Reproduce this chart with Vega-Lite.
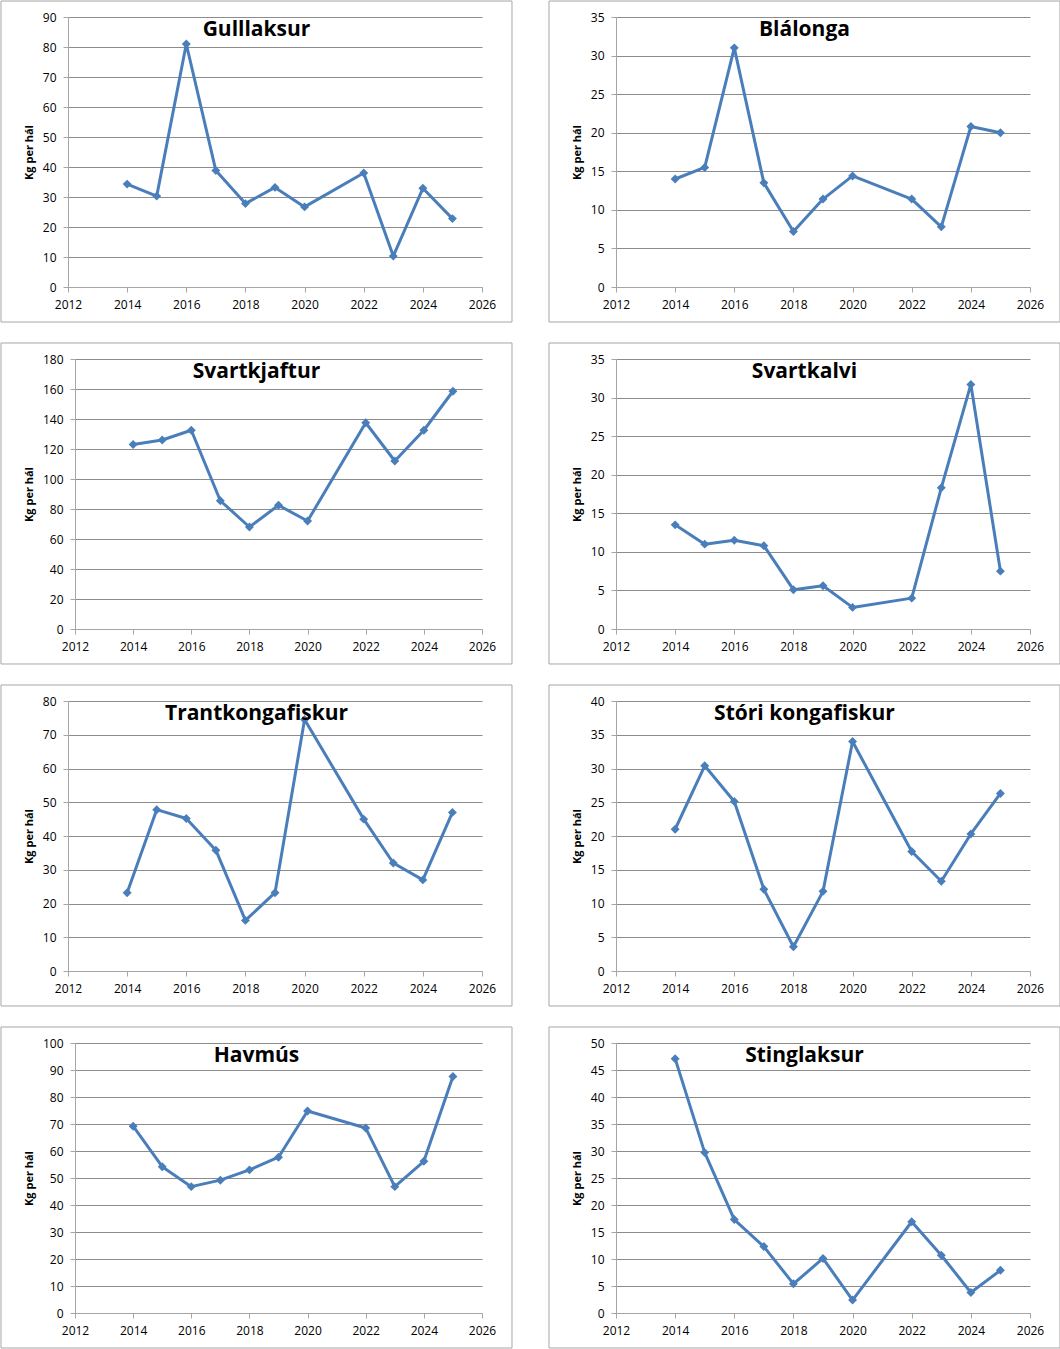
{
  "$schema": "https://vega.github.io/schema/vega-lite/v6.json",
  "background": "white",
  "padding": 0,
  "columns": 2,
  "align": "none",
  "bounds": "full",
  "spacing": {"row": 19, "column": 35},
  "config": {
    "view": {"stroke": null},
    "font": "Open Sans",
    "axis": {
      "labelFont": "Open Sans", "labelFontSize": 12, "labelColor": "#000000",
      "domainColor": "#a6a6a6", "tickColor": "#a6a6a6", "gridColor": "#8c8c8c",
      "tickSize": 5, "titleFont": "Open Sans", "titleFontSize": 11,
      "titleFontWeight": "bold", "titleColor": "#000000"
    },
    "axisX": {"grid": false, "labelPadding": 7, "labelFlush": false},
    "axisY": {"grid": true, "labelPadding": 7, "titlePadding": 8},
    "title": {"font": "Open Sans", "fontSize": 21, "fontWeight": "bold", "color": "#000000", "anchor": "middle", "frame": "bounds", "offset": -39.5, "baseline": "alphabetic"}
  },
  "datasets": {
    "fish": [
      {"species": "Gulllaksur", "year": 2014, "kg": 34.3},
      {"species": "Gulllaksur", "year": 2015, "kg": 30.3},
      {"species": "Gulllaksur", "year": 2016, "kg": 81.0},
      {"species": "Gulllaksur", "year": 2017, "kg": 38.8},
      {"species": "Gulllaksur", "year": 2018, "kg": 27.8},
      {"species": "Gulllaksur", "year": 2019, "kg": 33.2},
      {"species": "Gulllaksur", "year": 2020, "kg": 26.7},
      {"species": "Gulllaksur", "year": 2022, "kg": 38.0},
      {"species": "Gulllaksur", "year": 2023, "kg": 10.3},
      {"species": "Gulllaksur", "year": 2024, "kg": 32.9},
      {"species": "Gulllaksur", "year": 2025, "kg": 22.8},
      {"species": "Blálonga", "year": 2014, "kg": 14.0},
      {"species": "Blálonga", "year": 2015, "kg": 15.5},
      {"species": "Blálonga", "year": 2016, "kg": 31.0},
      {"species": "Blálonga", "year": 2017, "kg": 13.5},
      {"species": "Blálonga", "year": 2018, "kg": 7.2},
      {"species": "Blálonga", "year": 2019, "kg": 11.4},
      {"species": "Blálonga", "year": 2020, "kg": 14.4},
      {"species": "Blálonga", "year": 2022, "kg": 11.4},
      {"species": "Blálonga", "year": 2023, "kg": 7.8},
      {"species": "Blálonga", "year": 2024, "kg": 20.8},
      {"species": "Blálonga", "year": 2025, "kg": 20.0},
      {"species": "Svartkjaftur", "year": 2014, "kg": 123.0},
      {"species": "Svartkjaftur", "year": 2015, "kg": 126.0},
      {"species": "Svartkjaftur", "year": 2016, "kg": 132.5},
      {"species": "Svartkjaftur", "year": 2017, "kg": 85.5},
      {"species": "Svartkjaftur", "year": 2018, "kg": 68.0},
      {"species": "Svartkjaftur", "year": 2019, "kg": 82.5},
      {"species": "Svartkjaftur", "year": 2020, "kg": 72.0},
      {"species": "Svartkjaftur", "year": 2022, "kg": 137.5},
      {"species": "Svartkjaftur", "year": 2023, "kg": 112.0},
      {"species": "Svartkjaftur", "year": 2024, "kg": 132.5},
      {"species": "Svartkjaftur", "year": 2025, "kg": 158.5},
      {"species": "Svartkalvi", "year": 2014, "kg": 13.5},
      {"species": "Svartkalvi", "year": 2015, "kg": 11.0},
      {"species": "Svartkalvi", "year": 2016, "kg": 11.5},
      {"species": "Svartkalvi", "year": 2017, "kg": 10.8},
      {"species": "Svartkalvi", "year": 2018, "kg": 5.1},
      {"species": "Svartkalvi", "year": 2019, "kg": 5.6},
      {"species": "Svartkalvi", "year": 2020, "kg": 2.8},
      {"species": "Svartkalvi", "year": 2022, "kg": 4.0},
      {"species": "Svartkalvi", "year": 2023, "kg": 18.3},
      {"species": "Svartkalvi", "year": 2024, "kg": 31.7},
      {"species": "Svartkalvi", "year": 2025, "kg": 7.5},
      {"species": "Trantkongafiskur", "year": 2014, "kg": 23.2},
      {"species": "Trantkongafiskur", "year": 2015, "kg": 47.8},
      {"species": "Trantkongafiskur", "year": 2016, "kg": 45.2},
      {"species": "Trantkongafiskur", "year": 2017, "kg": 35.8},
      {"species": "Trantkongafiskur", "year": 2018, "kg": 15.0},
      {"species": "Trantkongafiskur", "year": 2019, "kg": 23.2},
      {"species": "Trantkongafiskur", "year": 2020, "kg": 74.5},
      {"species": "Trantkongafiskur", "year": 2022, "kg": 45.0},
      {"species": "Trantkongafiskur", "year": 2023, "kg": 32.0},
      {"species": "Trantkongafiskur", "year": 2024, "kg": 27.0},
      {"species": "Trantkongafiskur", "year": 2025, "kg": 47.0},
      {"species": "Stóri kongafiskur", "year": 2014, "kg": 21.0},
      {"species": "Stóri kongafiskur", "year": 2015, "kg": 30.4},
      {"species": "Stóri kongafiskur", "year": 2016, "kg": 25.1},
      {"species": "Stóri kongafiskur", "year": 2017, "kg": 12.1},
      {"species": "Stóri kongafiskur", "year": 2018, "kg": 3.6},
      {"species": "Stóri kongafiskur", "year": 2019, "kg": 11.8},
      {"species": "Stóri kongafiskur", "year": 2020, "kg": 34.0},
      {"species": "Stóri kongafiskur", "year": 2022, "kg": 17.7},
      {"species": "Stóri kongafiskur", "year": 2023, "kg": 13.3},
      {"species": "Stóri kongafiskur", "year": 2024, "kg": 20.3},
      {"species": "Stóri kongafiskur", "year": 2025, "kg": 26.3},
      {"species": "Havmús", "year": 2014, "kg": 69.2},
      {"species": "Havmús", "year": 2015, "kg": 54.2},
      {"species": "Havmús", "year": 2016, "kg": 46.8},
      {"species": "Havmús", "year": 2017, "kg": 49.2},
      {"species": "Havmús", "year": 2018, "kg": 53.0},
      {"species": "Havmús", "year": 2019, "kg": 57.7},
      {"species": "Havmús", "year": 2020, "kg": 74.8},
      {"species": "Havmús", "year": 2022, "kg": 68.5},
      {"species": "Havmús", "year": 2023, "kg": 46.8},
      {"species": "Havmús", "year": 2024, "kg": 56.2},
      {"species": "Havmús", "year": 2025, "kg": 87.6},
      {"species": "Stinglaksur", "year": 2014, "kg": 47.1},
      {"species": "Stinglaksur", "year": 2015, "kg": 29.7},
      {"species": "Stinglaksur", "year": 2016, "kg": 17.3},
      {"species": "Stinglaksur", "year": 2017, "kg": 12.3},
      {"species": "Stinglaksur", "year": 2018, "kg": 5.4},
      {"species": "Stinglaksur", "year": 2019, "kg": 10.1},
      {"species": "Stinglaksur", "year": 2020, "kg": 2.4},
      {"species": "Stinglaksur", "year": 2022, "kg": 16.9},
      {"species": "Stinglaksur", "year": 2023, "kg": 10.7},
      {"species": "Stinglaksur", "year": 2024, "kg": 3.8},
      {"species": "Stinglaksur", "year": 2025, "kg": 7.9}
    ]
  },
  "concat": [
    {
      "width": 414, "height": 270, "title": "Gulllaksur",
      "layer": [
        {"data": {"values": [{}]}, "mark": {"type": "rect", "fill": "transparent", "stroke": "#a6a6a6", "strokeWidth": 1},
         "encoding": {
           "x": {"datum": 2009.734, "type": "quantitative", "title": null, "scale": {"domain": [2012, 2026], "nice": false, "zero": false}, "axis": {"values": [2012, 2014, 2016, 2018, 2020, 2022, 2024, 2026], "format": "d"}},
           "x2": {"datum": 2027.014},
           "y": {"datum": -11.667, "type": "quantitative", "title": "Kg per hál", "scale": {"domain": [0, 90], "nice": false, "zero": false}, "axis": {"values": [0, 10, 20, 30, 40, 50, 60, 70, 80, 90]}},
           "y2": {"datum": 95.333}}},
        {"data": {"name": "fish"}, "transform": [{"filter": "datum.species == 'Gulllaksur'"}],
         "mark": {"type": "line", "color": "#4A7EBB", "strokeWidth": 3, "strokeJoin": "round", "point": {"shape": "diamond", "size": 80, "filled": true, "color": "#4A7EBB"}},
         "encoding": {
           "x": {"field": "year", "type": "quantitative", "title": null, "scale": {"domain": [2012, 2026], "nice": false, "zero": false}, "axis": {"values": [2012, 2014, 2016, 2018, 2020, 2022, 2024, 2026], "format": "d"}},
           "y": {"field": "kg", "type": "quantitative", "title": "Kg per hál", "scale": {"domain": [0, 90], "nice": false, "zero": false}, "axis": {"values": [0, 10, 20, 30, 40, 50, 60, 70, 80, 90]}}
         }}
      ]
    },
    {
      "width": 414, "height": 270, "title": "Blálonga",
      "layer": [
        {"data": {"values": [{}]}, "mark": {"type": "rect", "fill": "transparent", "stroke": "#a6a6a6", "strokeWidth": 1},
         "encoding": {
           "x": {"datum": 2009.734, "type": "quantitative", "title": null, "scale": {"domain": [2012, 2026], "nice": false, "zero": false}, "axis": {"values": [2012, 2014, 2016, 2018, 2020, 2022, 2024, 2026], "format": "d"}},
           "x2": {"datum": 2027.014},
           "y": {"datum": -4.537, "type": "quantitative", "title": "Kg per hál", "scale": {"domain": [0, 35], "nice": false, "zero": false}, "axis": {"values": [0, 5, 10, 15, 20, 25, 30, 35]}},
           "y2": {"datum": 37.074}}},
        {"data": {"name": "fish"}, "transform": [{"filter": "datum.species == 'Blálonga'"}],
         "mark": {"type": "line", "color": "#4A7EBB", "strokeWidth": 3, "strokeJoin": "round", "point": {"shape": "diamond", "size": 80, "filled": true, "color": "#4A7EBB"}},
         "encoding": {
           "x": {"field": "year", "type": "quantitative", "title": null, "scale": {"domain": [2012, 2026], "nice": false, "zero": false}, "axis": {"values": [2012, 2014, 2016, 2018, 2020, 2022, 2024, 2026], "format": "d"}},
           "y": {"field": "kg", "type": "quantitative", "title": "Kg per hál", "scale": {"domain": [0, 35], "nice": false, "zero": false}, "axis": {"values": [0, 5, 10, 15, 20, 25, 30, 35]}}
         }}
      ]
    },
    {
      "width": 414, "height": 270, "title": "Svartkjaftur",
      "layer": [
        {"data": {"values": [{}]}, "mark": {"type": "rect", "fill": "transparent", "stroke": "#a6a6a6", "strokeWidth": 1},
         "encoding": {
           "x": {"datum": 2009.4545, "type": "quantitative", "title": null, "scale": {"domain": [2012, 2026], "range": [7, 414], "nice": false, "zero": false}, "axis": {"values": [2012, 2014, 2016, 2018, 2020, 2022, 2024, 2026], "format": "d"}},
           "x2": {"datum": 2027.0319},
           "y": {"datum": -23.333, "type": "quantitative", "title": "Kg per hál", "scale": {"domain": [0, 180], "nice": false, "zero": false}, "axis": {"values": [0, 20, 40, 60, 80, 100, 120, 140, 160, 180], "offset": -7}},
           "y2": {"datum": 190.667}}},
        {"data": {"name": "fish"}, "transform": [{"filter": "datum.species == 'Svartkjaftur'"}],
         "mark": {"type": "line", "color": "#4A7EBB", "strokeWidth": 3, "strokeJoin": "round", "point": {"shape": "diamond", "size": 80, "filled": true, "color": "#4A7EBB"}},
         "encoding": {
           "x": {"field": "year", "type": "quantitative", "title": null, "scale": {"domain": [2012, 2026], "range": [7, 414], "nice": false, "zero": false}, "axis": {"values": [2012, 2014, 2016, 2018, 2020, 2022, 2024, 2026], "format": "d"}},
           "y": {"field": "kg", "type": "quantitative", "title": "Kg per hál", "scale": {"domain": [0, 180], "nice": false, "zero": false}, "axis": {"values": [0, 20, 40, 60, 80, 100, 120, 140, 160, 180], "offset": -7}}
         }}
      ]
    },
    {
      "width": 414, "height": 270, "title": "Svartkalvi",
      "layer": [
        {"data": {"values": [{}]}, "mark": {"type": "rect", "fill": "transparent", "stroke": "#a6a6a6", "strokeWidth": 1},
         "encoding": {
           "x": {"datum": 2009.734, "type": "quantitative", "title": null, "scale": {"domain": [2012, 2026], "nice": false, "zero": false}, "axis": {"values": [2012, 2014, 2016, 2018, 2020, 2022, 2024, 2026], "format": "d"}},
           "x2": {"datum": 2027.014},
           "y": {"datum": -4.537, "type": "quantitative", "title": "Kg per hál", "scale": {"domain": [0, 35], "nice": false, "zero": false}, "axis": {"values": [0, 5, 10, 15, 20, 25, 30, 35]}},
           "y2": {"datum": 37.074}}},
        {"data": {"name": "fish"}, "transform": [{"filter": "datum.species == 'Svartkalvi'"}],
         "mark": {"type": "line", "color": "#4A7EBB", "strokeWidth": 3, "strokeJoin": "round", "point": {"shape": "diamond", "size": 80, "filled": true, "color": "#4A7EBB"}},
         "encoding": {
           "x": {"field": "year", "type": "quantitative", "title": null, "scale": {"domain": [2012, 2026], "nice": false, "zero": false}, "axis": {"values": [2012, 2014, 2016, 2018, 2020, 2022, 2024, 2026], "format": "d"}},
           "y": {"field": "kg", "type": "quantitative", "title": "Kg per hál", "scale": {"domain": [0, 35], "nice": false, "zero": false}, "axis": {"values": [0, 5, 10, 15, 20, 25, 30, 35]}}
         }}
      ]
    },
    {
      "width": 414, "height": 270, "title": "Trantkongafiskur",
      "layer": [
        {"data": {"values": [{}]}, "mark": {"type": "rect", "fill": "transparent", "stroke": "#a6a6a6", "strokeWidth": 1},
         "encoding": {
           "x": {"datum": 2009.734, "type": "quantitative", "title": null, "scale": {"domain": [2012, 2026], "nice": false, "zero": false}, "axis": {"values": [2012, 2014, 2016, 2018, 2020, 2022, 2024, 2026], "format": "d"}},
           "x2": {"datum": 2027.014},
           "y": {"datum": -10.370, "type": "quantitative", "title": "Kg per hál", "scale": {"domain": [0, 80], "nice": false, "zero": false}, "axis": {"values": [0, 10, 20, 30, 40, 50, 60, 70, 80]}},
           "y2": {"datum": 84.741}}},
        {"data": {"name": "fish"}, "transform": [{"filter": "datum.species == 'Trantkongafiskur'"}],
         "mark": {"type": "line", "color": "#4A7EBB", "strokeWidth": 3, "strokeJoin": "round", "point": {"shape": "diamond", "size": 80, "filled": true, "color": "#4A7EBB"}},
         "encoding": {
           "x": {"field": "year", "type": "quantitative", "title": null, "scale": {"domain": [2012, 2026], "nice": false, "zero": false}, "axis": {"values": [2012, 2014, 2016, 2018, 2020, 2022, 2024, 2026], "format": "d"}},
           "y": {"field": "kg", "type": "quantitative", "title": "Kg per hál", "scale": {"domain": [0, 80], "nice": false, "zero": false}, "axis": {"values": [0, 10, 20, 30, 40, 50, 60, 70, 80]}}
         }}
      ]
    },
    {
      "width": 414, "height": 270, "title": "Stóri kongafiskur",
      "layer": [
        {"data": {"values": [{}]}, "mark": {"type": "rect", "fill": "transparent", "stroke": "#a6a6a6", "strokeWidth": 1},
         "encoding": {
           "x": {"datum": 2009.734, "type": "quantitative", "title": null, "scale": {"domain": [2012, 2026], "nice": false, "zero": false}, "axis": {"values": [2012, 2014, 2016, 2018, 2020, 2022, 2024, 2026], "format": "d"}},
           "x2": {"datum": 2027.014},
           "y": {"datum": -5.185, "type": "quantitative", "title": "Kg per hál", "scale": {"domain": [0, 40], "nice": false, "zero": false}, "axis": {"values": [0, 5, 10, 15, 20, 25, 30, 35, 40]}},
           "y2": {"datum": 42.370}}},
        {"data": {"name": "fish"}, "transform": [{"filter": "datum.species == 'Stóri kongafiskur'"}],
         "mark": {"type": "line", "color": "#4A7EBB", "strokeWidth": 3, "strokeJoin": "round", "point": {"shape": "diamond", "size": 80, "filled": true, "color": "#4A7EBB"}},
         "encoding": {
           "x": {"field": "year", "type": "quantitative", "title": null, "scale": {"domain": [2012, 2026], "nice": false, "zero": false}, "axis": {"values": [2012, 2014, 2016, 2018, 2020, 2022, 2024, 2026], "format": "d"}},
           "y": {"field": "kg", "type": "quantitative", "title": "Kg per hál", "scale": {"domain": [0, 40], "nice": false, "zero": false}, "axis": {"values": [0, 5, 10, 15, 20, 25, 30, 35, 40]}}
         }}
      ]
    },
    {
      "width": 414, "height": 270, "title": "Havmús",
      "layer": [
        {"data": {"values": [{}]}, "mark": {"type": "rect", "fill": "transparent", "stroke": "#a6a6a6", "strokeWidth": 1},
         "encoding": {
           "x": {"datum": 2009.4545, "type": "quantitative", "title": null, "scale": {"domain": [2012, 2026], "range": [7, 414], "nice": false, "zero": false}, "axis": {"values": [2012, 2014, 2016, 2018, 2020, 2022, 2024, 2026], "format": "d"}},
           "x2": {"datum": 2027.0319},
           "y": {"datum": -12.963, "type": "quantitative", "title": "Kg per hál", "scale": {"domain": [0, 100], "nice": false, "zero": false}, "axis": {"values": [0, 10, 20, 30, 40, 50, 60, 70, 80, 90, 100], "offset": -7}},
           "y2": {"datum": 105.926}}},
        {"data": {"name": "fish"}, "transform": [{"filter": "datum.species == 'Havmús'"}],
         "mark": {"type": "line", "color": "#4A7EBB", "strokeWidth": 3, "strokeJoin": "round", "point": {"shape": "diamond", "size": 80, "filled": true, "color": "#4A7EBB"}},
         "encoding": {
           "x": {"field": "year", "type": "quantitative", "title": null, "scale": {"domain": [2012, 2026], "range": [7, 414], "nice": false, "zero": false}, "axis": {"values": [2012, 2014, 2016, 2018, 2020, 2022, 2024, 2026], "format": "d"}},
           "y": {"field": "kg", "type": "quantitative", "title": "Kg per hál", "scale": {"domain": [0, 100], "nice": false, "zero": false}, "axis": {"values": [0, 10, 20, 30, 40, 50, 60, 70, 80, 90, 100], "offset": -7}}
         }}
      ]
    },
    {
      "width": 414, "height": 270, "title": "Stinglaksur",
      "layer": [
        {"data": {"values": [{}]}, "mark": {"type": "rect", "fill": "transparent", "stroke": "#a6a6a6", "strokeWidth": 1},
         "encoding": {
           "x": {"datum": 2009.734, "type": "quantitative", "title": null, "scale": {"domain": [2012, 2026], "nice": false, "zero": false}, "axis": {"values": [2012, 2014, 2016, 2018, 2020, 2022, 2024, 2026], "format": "d"}},
           "x2": {"datum": 2027.014},
           "y": {"datum": -6.481, "type": "quantitative", "title": "Kg per hál", "scale": {"domain": [0, 50], "nice": false, "zero": false}, "axis": {"values": [0, 5, 10, 15, 20, 25, 30, 35, 40, 45, 50]}},
           "y2": {"datum": 52.963}}},
        {"data": {"name": "fish"}, "transform": [{"filter": "datum.species == 'Stinglaksur'"}],
         "mark": {"type": "line", "color": "#4A7EBB", "strokeWidth": 3, "strokeJoin": "round", "point": {"shape": "diamond", "size": 80, "filled": true, "color": "#4A7EBB"}},
         "encoding": {
           "x": {"field": "year", "type": "quantitative", "title": null, "scale": {"domain": [2012, 2026], "nice": false, "zero": false}, "axis": {"values": [2012, 2014, 2016, 2018, 2020, 2022, 2024, 2026], "format": "d"}},
           "y": {"field": "kg", "type": "quantitative", "title": "Kg per hál", "scale": {"domain": [0, 50], "nice": false, "zero": false}, "axis": {"values": [0, 5, 10, 15, 20, 25, 30, 35, 40, 45, 50]}}
         }}
      ]
    }
  ]
}
